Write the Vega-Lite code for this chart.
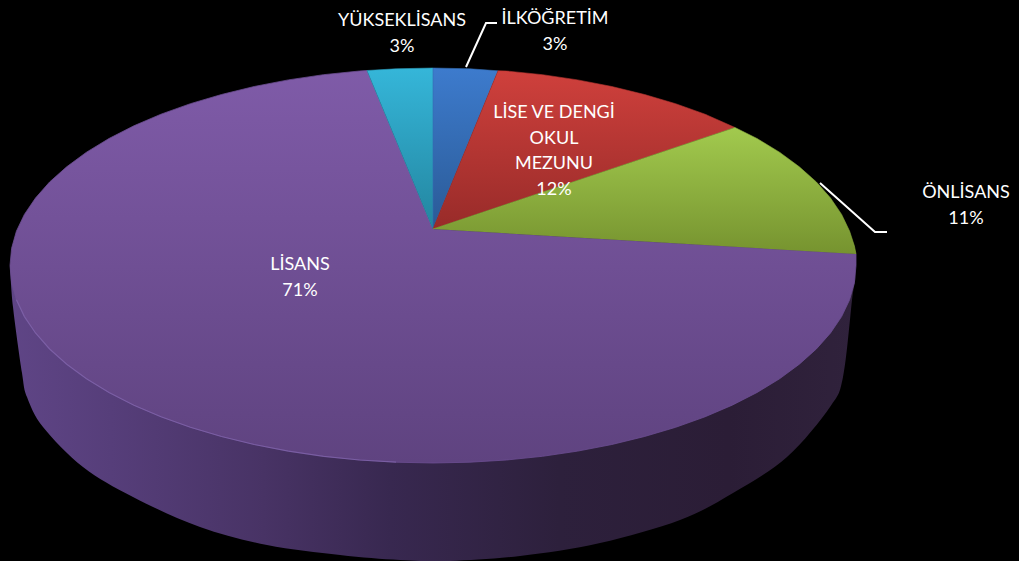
{"$schema":"https://vega.github.io/schema/vega-lite/v6.json","width":1019,"height":561,"padding":0,"autosize":{"type":"none"},"background":"#000000","view":{"stroke":null},
"config":{"view":{"stroke":null}},
"datasets":{
"wall":[[10,265],[13,307],[22,373],[27,397],[43,427],[83,467],[133,497],[200,527],[267,545],[340,555],[400,560],[450,561],[520,556],[600,543],[680,520],[733,493],[787,457],[830,407],[843,377],[852,300],[855,272],[845,240]],
"blue":[[433,229],[433,68],[469.9,68.8],[498,70.8]],
"red":[[433,229],[498,70.8],[506.5,71],[542.5,74.7],[577.7,79.9],[611.8,86.5],[644.5,94.5],[675.6,103.7],[705,114.2],[735,127.5]],
"green":[[433,229],[735,127.5],[757,138.5],[779.5,152.2],[799.3,166.8],[816.4,182],[830.5,198],[841.6,214.4],[849.6,231.2],[854.4,246],[856,254]],
"cyan":[[433,229],[367,70.5],[396.1,68.8],[433,68]],
"purple":[[433,229],[856,254],[856,265.5],[854.4,282.7],[849.6,299.8],[841.6,316.6],[830.5,333],[816.4,348.9],[799.3,364.2],[779.5,378.8],[757,392.5],[732.1,405.2],[705,416.8],[675.6,427.3],[644.5,436.5],[611.8,444.5],[577.7,451.1],[542.5,456.3],[506.5,460],[469.9,462.2],[433,463],[396.1,462.2],[359.5,460],[323.5,456.3],[288.3,451.1],[254.2,444.5],[221.5,436.5],[190.4,427.3],[161,416.8],[133.9,405.2],[109,392.5],[86.5,378.8],[66.7,364.2],[49.6,349],[35.5,333],[24.4,316.6],[16.4,299.8],[11.6,282.7],[10,265.5],[11.6,248.3],[16.4,231.2],[24.4,214.4],[35.5,198],[49.6,182],[66.7,166.8],[86.5,152.2],[109,138.5],[133.9,125.8],[161,114.2],[190.4,103.7],[221.5,94.5],[254.2,86.5],[288.3,79.9],[323.5,74.7],[359.5,71],[367,70.5]],
"rim":[[16.4,299.8],[24.4,316.6],[35.5,333],[49.6,349],[66.7,364.2],[86.5,378.8],[109,392.5],[133.9,405.2],[161,416.8],[190.4,427.3],[221.5,436.5],[254.2,444.5],[288.3,451.1],[323.5,456.3],[359.5,460],[396.1,462.2]],
"leader1":[[466,67],[486,23],[497,23]],
"leader2":[[820,183],[875,232],[887,232]],
"labels":[
{"label":"YÜKSEKLİSANS\n3%","share":3,"x":402,"y":21},
{"label":"İLKÖĞRETİM\n3%","share":3,"x":555,"y":19},
{"label":"LİSE VE DENGİ\nOKUL\nMEZUNU\n12%","share":12,"x":554,"y":113},
{"label":"ÖNLİSANS\n11%","share":11,"x":966,"y":193},
{"label":"LİSANS\n71%","share":71,"x":300,"y":265}]
},
"layer":[
{"data":{"name":"wall"},"transform":[{"calculate":"datum[0]","as":"px"},{"calculate":"datum[1]","as":"py"},{"window":[{"op":"row_number","as":"n"}]}],
"mark":{"type":"line","filled":true,"interpolate":"cardinal","strokeWidth":0,"fill":{"gradient":"linear","x1":0,"y1":0,"x2":1,"y2":0,"stops":[{"offset":0,"color":"#5f4586"},{"offset":0.12,"color":"#563e7a"},{"offset":0.3,"color":"#483365"},{"offset":0.45,"color":"#382850"},{"offset":0.65,"color":"#2d203c"},{"offset":0.85,"color":"#2b1d36"},{"offset":1,"color":"#30223c"}]}},
"encoding":{"x":{"field":"px","type":"quantitative","scale":{"domain":[0,1019],"nice":false,"zero":false},"axis":null},"y":{"field":"py","type":"quantitative","scale":{"domain":[0,561],"reverse":true,"nice":false,"zero":false},"axis":null},"order":{"field":"n"}}},
{"data":{"name":"purple"},"transform":[{"calculate":"datum[0]","as":"px"},{"calculate":"datum[1]","as":"py"},{"window":[{"op":"row_number","as":"n"}]}],
"mark":{"type":"line","filled":true,"strokeWidth":0.8,"stroke":"#6c4e92","fill":{"gradient":"linear","x1":0,"y1":0,"x2":0,"y2":1,"stops":[{"offset":0,"color":"#7f5ba8"},{"offset":1,"color":"#5f4380"}]}},
"encoding":{"x":{"field":"px","type":"quantitative","axis":null},"y":{"field":"py","type":"quantitative","axis":null},"order":{"field":"n"}}},
{"data":{"name":"cyan"},"transform":[{"calculate":"datum[0]","as":"px"},{"calculate":"datum[1]","as":"py"},{"window":[{"op":"row_number","as":"n"}]}],
"mark":{"type":"line","filled":true,"strokeWidth":0.6,"stroke":"#2b9cbb","fill":{"gradient":"linear","x1":0,"y1":0,"x2":0,"y2":1,"stops":[{"offset":0,"color":"#35b6d9"},{"offset":1,"color":"#23859f"}]}},
"encoding":{"x":{"field":"px","type":"quantitative","axis":null},"y":{"field":"py","type":"quantitative","axis":null},"order":{"field":"n"}}},
{"data":{"name":"blue"},"transform":[{"calculate":"datum[0]","as":"px"},{"calculate":"datum[1]","as":"py"},{"window":[{"op":"row_number","as":"n"}]}],
"mark":{"type":"line","filled":true,"strokeWidth":0.6,"stroke":"#336bb2","fill":{"gradient":"linear","x1":0,"y1":0,"x2":0,"y2":1,"stops":[{"offset":0,"color":"#3d7bcd"},{"offset":1,"color":"#2a5a96"}]}},
"encoding":{"x":{"field":"px","type":"quantitative","axis":null},"y":{"field":"py","type":"quantitative","axis":null},"order":{"field":"n"}}},
{"data":{"name":"red"},"transform":[{"calculate":"datum[0]","as":"px"},{"calculate":"datum[1]","as":"py"},{"window":[{"op":"row_number","as":"n"}]}],
"mark":{"type":"line","filled":true,"strokeWidth":0.6,"stroke":"#b53533","fill":{"gradient":"linear","x1":0,"y1":0,"x2":0,"y2":1,"stops":[{"offset":0,"color":"#cf403c"},{"offset":1,"color":"#982b29"}]}},
"encoding":{"x":{"field":"px","type":"quantitative","axis":null},"y":{"field":"py","type":"quantitative","axis":null},"order":{"field":"n"}}},
{"data":{"name":"green"},"transform":[{"calculate":"datum[0]","as":"px"},{"calculate":"datum[1]","as":"py"},{"window":[{"op":"row_number","as":"n"}]}],
"mark":{"type":"line","filled":true,"strokeWidth":0.6,"stroke":"#8cae3e","fill":{"gradient":"linear","x1":0,"y1":0,"x2":0,"y2":1,"stops":[{"offset":0,"color":"#a2ca4e"},{"offset":1,"color":"#76932f"}]}},
"encoding":{"x":{"field":"px","type":"quantitative","axis":null},"y":{"field":"py","type":"quantitative","axis":null},"order":{"field":"n"}}},
{"data":{"name":"rim"},"transform":[{"calculate":"datum[0]","as":"px"},{"calculate":"datum[1]","as":"py"},{"window":[{"op":"row_number","as":"n"}]}],
"mark":{"type":"line","stroke":"#8a70b8","strokeWidth":1.2,"opacity":0.55},
"encoding":{"x":{"field":"px","type":"quantitative","axis":null},"y":{"field":"py","type":"quantitative","axis":null},"order":{"field":"n"}}},
{"data":{"name":"leader1"},"transform":[{"calculate":"datum[0]","as":"px"},{"calculate":"datum[1]","as":"py"},{"window":[{"op":"row_number","as":"n"}]}],
"mark":{"type":"line","stroke":"#ffffff","strokeWidth":2},
"encoding":{"x":{"field":"px","type":"quantitative","axis":null},"y":{"field":"py","type":"quantitative","axis":null},"order":{"field":"n"}}},
{"data":{"name":"leader2"},"transform":[{"calculate":"datum[0]","as":"px"},{"calculate":"datum[1]","as":"py"},{"window":[{"op":"row_number","as":"n"}]}],
"mark":{"type":"line","stroke":"#ffffff","strokeWidth":2},
"encoding":{"x":{"field":"px","type":"quantitative","axis":null},"y":{"field":"py","type":"quantitative","axis":null},"order":{"field":"n"}}},
{"data":{"name":"labels"},
"mark":{"type":"text","font":"Lato","fontSize":18,"lineHeight":25.7,"lineBreak":"\n","align":"center","baseline":"middle","color":"#ffffff"},
"encoding":{"x":{"field":"x","type":"quantitative","axis":null},"y":{"field":"y","type":"quantitative","axis":null},"text":{"field":"label"}}}
],
"resolve":{"scale":{"x":"shared","y":"shared"}}}
